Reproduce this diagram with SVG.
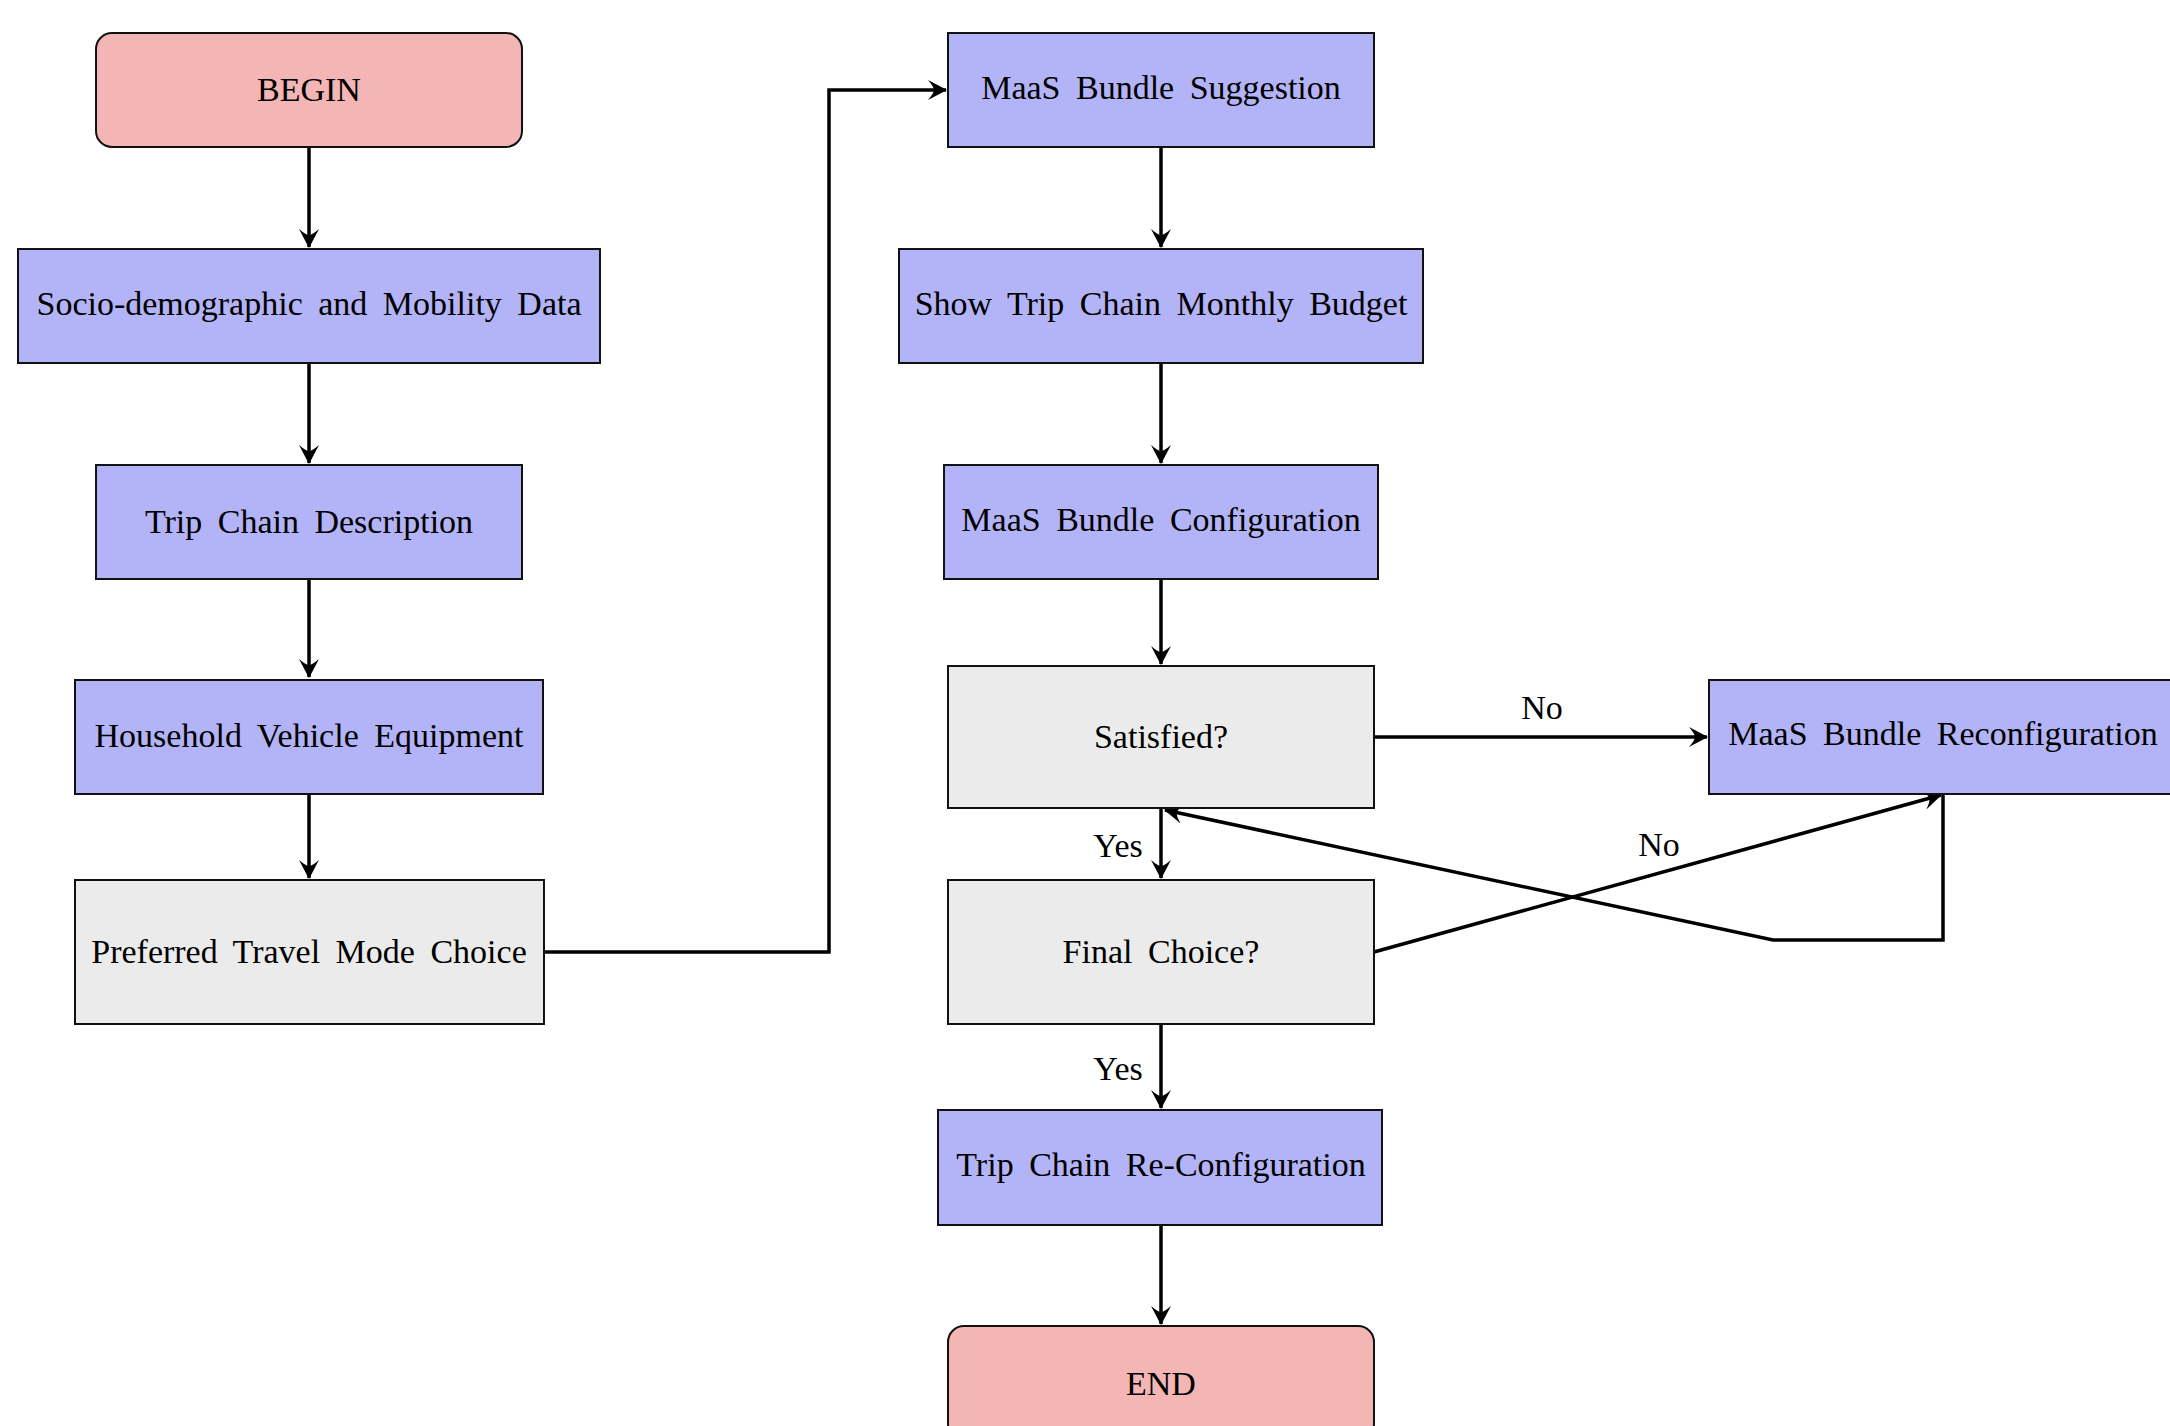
<svg xmlns="http://www.w3.org/2000/svg" width="2170" height="1426" viewBox="0 0 2170 1426">
<style>
.blue{fill:#b3b3f7;stroke:#111;stroke-width:2}
.gray{fill:#ebebeb;stroke:#111;stroke-width:2}
.red{fill:#f4b5b5;stroke:#111;stroke-width:2}
text{font-family:"Liberation Serif","Times New Roman",serif;font-size:34px;fill:#000;text-anchor:middle}
.t{word-spacing:7px}
.c{fill:none;stroke:#000;stroke-width:3.5}
</style>
<defs>
<marker id="ah" markerUnits="userSpaceOnUse" markerWidth="24" markerHeight="24" viewBox="-20 -12 24 24" refX="0" refY="0" orient="auto">
<path d="M1,0 L-18,-10 Q-12,-3 -12,0 Q-12,3 -18,10 Z" fill="#000"/>
</marker>
</defs>
<rect width="2170" height="1426" fill="#fff"/>
<g id="connectors">
<path class="c" d="M309,148 V247" marker-end="url(#ah)"/>
<path class="c" d="M309,363 V463" marker-end="url(#ah)"/>
<path class="c" d="M309,579 V677" marker-end="url(#ah)"/>
<path class="c" d="M309,794 V878" marker-end="url(#ah)"/>
<path class="c" d="M544,952 H829 V90 H946" marker-end="url(#ah)"/>
<path class="c" d="M1161,148 V247" marker-end="url(#ah)"/>
<path class="c" d="M1161,363 V463" marker-end="url(#ah)"/>
<path class="c" d="M1161,579 V664" marker-end="url(#ah)"/>
<path class="c" d="M1161,809 V878" marker-end="url(#ah)"/>
<path class="c" d="M1161,1025 V1108" marker-end="url(#ah)"/>
<path class="c" d="M1161,1225 V1324" marker-end="url(#ah)"/>
<path class="c" d="M1374,737 H1707" marker-end="url(#ah)"/>
<path class="c" d="M1374,952 L1941,795" marker-end="url(#ah)"/>
<path class="c" d="M1943,795 V940 H1773 L1165,810" marker-end="url(#ah)"/>
<text x="1118" y="857">Yes</text>
<text x="1118" y="1080">Yes</text>
<text x="1542" y="719">No</text>
<text x="1659" y="856">No</text>
</g>
<g id="begin"><rect class="red" x="96" y="33" width="426" height="114" rx="16"/><text class="t" x="309" y="101">BEGIN</text></g>
<g id="socio"><rect class="blue" x="18" y="249" width="582" height="114"/><text class="t" x="309" y="315">Socio-demographic and Mobility Data</text></g>
<g id="tripdesc"><rect class="blue" x="96" y="465" width="426" height="114"/><text class="t" x="309" y="533">Trip Chain Description</text></g>
<g id="household"><rect class="blue" x="75" y="680" width="468" height="114"/><text class="t" x="309" y="747">Household Vehicle Equipment</text></g>
<g id="preferred"><rect class="gray" x="75" y="880" width="469" height="144"/><text class="t" x="309" y="963">Preferred Travel Mode Choice</text></g>
<g id="suggestion"><rect class="blue" x="948" y="33" width="426" height="114"/><text class="t" x="1161" y="99">MaaS Bundle Suggestion</text></g>
<g id="budget"><rect class="blue" x="899" y="249" width="524" height="114"/><text class="t" x="1161" y="315">Show Trip Chain Monthly Budget</text></g>
<g id="config"><rect class="blue" x="944" y="465" width="434" height="114"/><text class="t" x="1161" y="531">MaaS Bundle Configuration</text></g>
<g id="satisfied"><rect class="gray" x="948" y="666" width="426" height="142"/><text class="t" x="1161" y="748">Satisfied?</text></g>
<g id="reconfig"><rect class="blue" x="1709" y="680" width="468" height="114"/><text class="t" x="1943" y="745">MaaS Bundle Reconfiguration</text></g>
<g id="final"><rect class="gray" x="948" y="880" width="426" height="144"/><text class="t" x="1161" y="963">Final Choice?</text></g>
<g id="tripreconfig"><rect class="blue" x="938" y="1110" width="444" height="115"/><text class="t" x="1161" y="1176">Trip Chain Re-Configuration</text></g>
<g id="end"><rect class="red" x="948" y="1326" width="426" height="114" rx="16"/><text class="t" x="1161" y="1395">END</text></g>
</svg>
